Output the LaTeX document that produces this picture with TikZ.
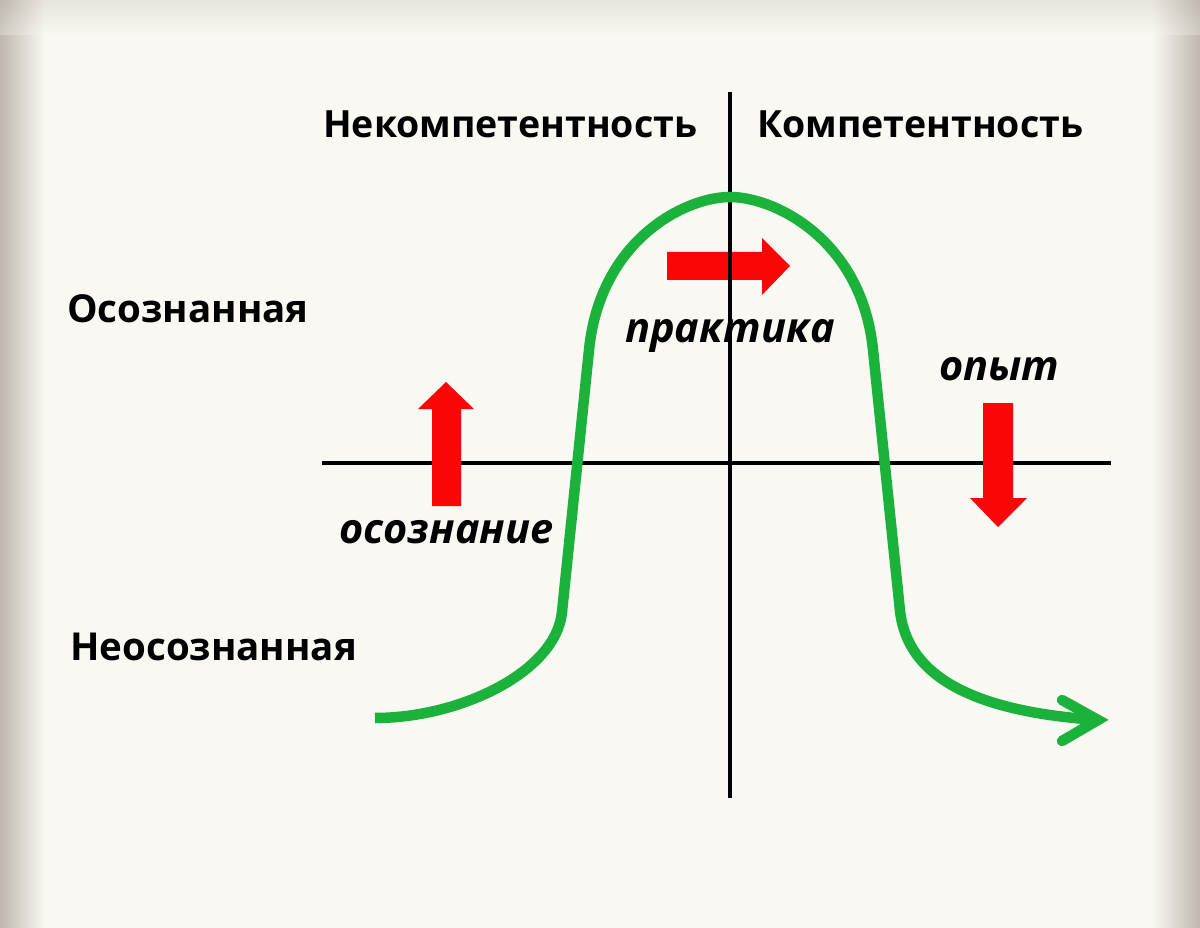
\documentclass[tikz,border=0pt]{standalone}
\usepackage{fontspec}
\setmainfont{Open Sans}
\definecolor{bg}{RGB}{250,248,242}
\definecolor{edgegray}{RGB}{190,184,174}
\definecolor{curvegreen}{RGB}{26,178,58}
\definecolor{arrowred}{RGB}{250,6,6}
\begin{document}
\begin{tikzpicture}[x=1pt,y=-1pt,
  axisline/.style={line width=3.5pt, black},
  curveline/.style={line width=10.5pt, curvegreen, line cap=butt, line join=round},
  barbline/.style={line width=10.5pt, curvegreen, line cap=round, line join=miter},
  redarrow/.style={fill=arrowred, draw=none},
  headlabel/.style={font=\fontsize{37.5}{44}\selectfont\bfseries, anchor=base west, inner sep=0pt},
  sidelabel/.style={font=\fontsize{38.5}{44}\selectfont\bfseries, anchor=base west, inner sep=0pt},
  itallabel/.style={font=\fontsize{41.5}{48}\selectfont\bfseries\itshape, anchor=base west, inner sep=0pt}]
\useasboundingbox (0,0) rectangle (1200,928);
% background
\fill[bg] (0,0) rectangle (1200,928);
\shade[left color=edgegray, right color=bg] (0,0) rectangle (45,928);
\shade[left color=bg, right color=edgegray] (1152,0) rectangle (1200,928);
\shade[top color=edgegray, bottom color=bg, fill opacity=0.3] (0,0) rectangle (1200,35);
% axes coordinates
\coordinate (vtop) at (730,92);
\coordinate (vbot) at (730,798);
\coordinate (hleft) at (322,463);
\coordinate (hright) at (1111,463);
\draw[axisline] (hleft) -- (hright);
% red arrows
\fill[redarrow] (432,506) -- (432,409) -- (418,409) -- (446,382) -- (474,409) -- (461,409) -- (461,506) -- cycle;
\fill[redarrow] (667,252) -- (762,252) -- (762,238) -- (790,266) -- (762,295) -- (762,280) -- (667,280) -- cycle;
\fill[redarrow] (983,403) -- (1013,403) -- (1013,498) -- (1027,498) -- (998,527) -- (970,498) -- (983,498) -- cycle;
\draw[axisline] (vtop) -- (vbot);
% green curve
\coordinate (c0) at (375,718);
\coordinate (c1) at (562,612);
\coordinate (c2) at (589,350);
\coordinate (ctop) at (730,197);
\coordinate (c3) at (873,350);
\coordinate (c4) at (900,611);
\coordinate (tip) at (1098,720);
\coordinate (barbU) at (1062,700);
\coordinate (barbD) at (1062,741);
\draw[curveline] (c0) .. controls (460,718) and (556,672) .. (c1) -- (c2)
  .. controls (600,240) and (685,197) .. (ctop)
  .. controls (775,197) and (862,240) .. (c3) -- (c4)
  .. controls (908,680) and (980,712) .. (tip);
\draw[barbline] (barbU) -- (tip) -- (barbD);
% labels
\node[headlabel] (incomp) at (323,138) {Некомпетентность};
\node[headlabel] (comp) at (757,138) {Компетентность};
\node[sidelabel] (conscious) at (67,322) {Осознанная};
\node[sidelabel] (unconscious) at (70,660) {Неосознанная};
\node[itallabel] (practice) at (625,342) {практика};
\node[itallabel] (awareness) at (339,543) {осознание};
\node[itallabel] (experience) at (939,380) {опыт};
\end{tikzpicture}
\end{document}
